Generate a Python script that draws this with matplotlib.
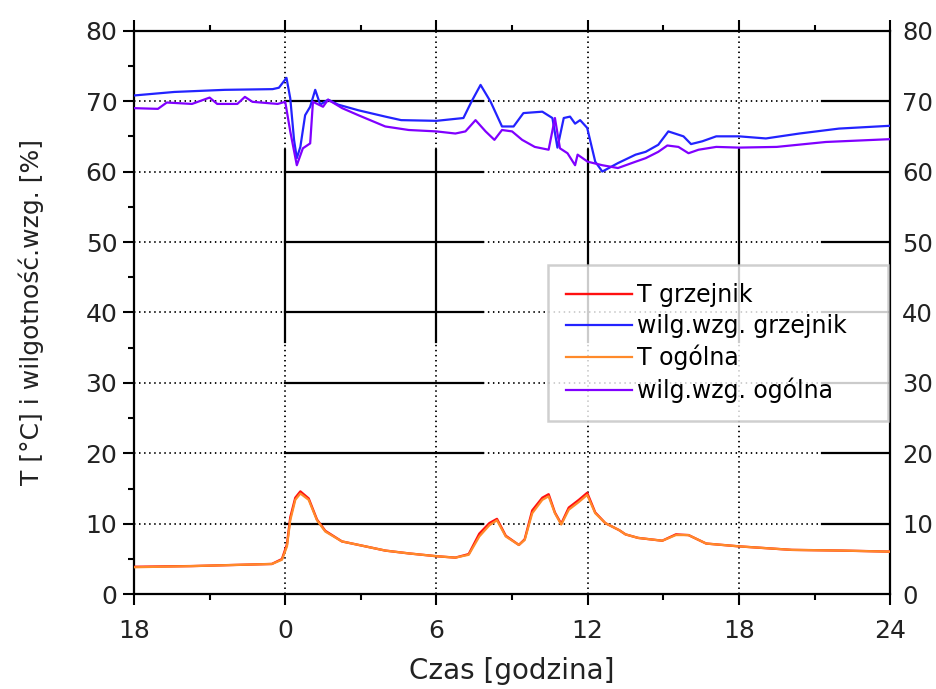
import numpy as np
import matplotlib
matplotlib.use("Agg")
import matplotlib.pyplot as plt

# ==== dane (godziny od 18:00 dnia poprzedniego)
hum_rad_h = [0, 1.6, 3.6, 5.5, 5.75, 6.05, 6.2, 6.35, 6.46, 6.6, 6.79, 6.99, 7.19, 7.39,
             7.7, 8.1, 8.9, 9.97, 10.6, 12.0, 13.07, 13.4, 13.75, 14.15, 14.6, 15.06,
             15.45, 16.2, 16.6, 16.8, 17.05, 17.3, 17.5, 17.7, 17.98, 18.3, 18.58, 19.2,
             19.9, 20.3, 20.8, 21.2, 21.8, 22.1, 22.55, 23.1, 24.0, 25.07, 26.4, 27.97, 30.0]
hum_rad = [70.8, 71.3, 71.6, 71.7, 71.9, 73.3, 70.4, 64.5, 61.9, 63.5, 68.0, 69.2, 71.6, 69.5,
           70.2, 69.5, 68.7, 67.8, 67.3, 67.2, 67.6, 70.0, 72.3, 69.9, 66.4, 66.4,
           68.3, 68.5, 67.6, 63.4, 67.6, 67.8, 66.8, 67.3, 66.2, 61.4, 60.0, 61.2,
           62.4, 62.8, 63.8, 65.7, 65.0, 63.9, 64.3, 65.0, 65.0, 64.7, 65.4, 66.1, 66.5]

hum_all_h = [0, 0.95, 1.3, 2.3, 3.0, 3.3, 4.1, 4.4, 4.7, 5.7, 6.0, 6.2, 6.46, 6.7, 6.99,
             7.1, 7.5, 7.7, 8.26, 8.9, 9.97, 10.9, 12.0, 12.75, 13.15, 13.55, 13.95, 14.3,
             14.6, 15.0, 15.4, 15.9, 16.45, 16.7, 16.9, 17.2, 17.5, 17.6, 18.0, 18.58,
             19.2, 19.9, 20.3, 20.8, 21.16, 21.6, 22.0, 22.4, 23.1, 24.0, 25.5, 27.45, 30.0]
hum_all = [69.0, 68.9, 69.8, 69.6, 70.5, 69.6, 69.6, 70.6, 69.9, 69.6, 69.9, 65.7, 60.9, 63.3, 64.0,
           69.9, 69.2, 70.2, 69.0, 68.0, 66.4, 65.9, 65.7, 65.4, 65.7, 67.3, 65.7, 64.5,
           65.9, 65.7, 64.5, 63.5, 63.1, 67.6, 63.3, 62.6, 60.9, 62.4, 61.4, 60.9,
           60.5, 61.4, 61.9, 62.8, 63.7, 63.5, 62.6, 63.1, 63.5, 63.4, 63.5, 64.2, 64.6]

temp_h = [0, 2.3, 5.47, 5.87, 6.07, 6.2, 6.4, 6.6, 6.93, 7.26, 7.59, 8.25, 9.18, 9.97,
          10.9, 12.0, 12.75, 13.28, 13.7, 14.1, 14.4, 14.75, 15.27, 15.5, 15.8, 16.2,
          16.45, 16.7, 16.95, 17.25, 17.65, 17.98, 18.3, 18.7, 19.25, 19.5, 20.0, 20.96,
          21.5, 22.0, 22.7, 24.0, 26.1, 28.1, 30.0]
temp_all = [3.83, 4.0, 4.3, 4.9, 6.8, 10.5, 13.4, 14.3, 13.4, 10.5, 8.9, 7.5, 6.8, 6.2,
            5.8, 5.4, 5.2, 5.6, 8.2, 9.8, 10.5, 8.2, 7.0, 7.7, 11.5, 13.4,
            13.9, 11.5, 9.9, 12.0, 13.1, 14.1, 11.5, 10.1, 9.1, 8.5, 8.0, 7.6,
            8.4, 8.4, 7.2, 6.8, 6.3, 6.2, 6.05]
temp_rad = [3.9, 4.0, 4.3, 5.0, 7.1, 10.9, 13.7, 14.6, 13.6, 10.6, 9.0, 7.5, 6.8, 6.2,
            5.8, 5.4, 5.2, 5.7, 8.6, 10.1, 10.7, 8.3, 7.0, 7.8, 11.9, 13.7,
            14.2, 11.6, 10.0, 12.3, 13.4, 14.4, 11.6, 10.1, 9.1, 8.5, 8.0, 7.6,
            8.5, 8.4, 7.2, 6.8, 6.3, 6.2, 6.05]

x_ticks = [0, 6, 12, 18, 24, 30]
x_labels = ["18", "0", "6", "12", "18", "24"]
y_ticks = [0, 10, 20, 30, 40, 50, 60, 70, 80]

# ==== wykres
fig = plt.figure(figsize=(9.37, 6.89), dpi=100)
ax = fig.add_axes([0.143, 0.1375, 0.807, 0.818])

ax.set_xlim(0, 30)
ax.set_ylim(0, 80)

# siatka kropkowana + ciągłe fragmenty jak w oryginale
for yv in y_ticks[1:-1]:
    ax.axhline(yv, color="black", lw=1.3, ls=(0, (0.8, 2.0)), zorder=0.5)
    ax.axhline(yv, xmin=0.2, xmax=0.462, color="black", lw=1.6, zorder=0.6)
    ax.axhline(yv, xmin=0.91, xmax=1.0, color="black", lw=1.6, zorder=0.6)
for xv in x_ticks[1:-1]:
    ax.axvline(xv, color="black", lw=1.3, ls=(0, (0.8, 2.0)), zorder=0.5)
    ax.axvline(xv, ymin=0.448, ymax=0.788, color="black", lw=1.6, zorder=0.6)

ax.plot(temp_h, temp_rad, color="#ff1010", lw=1.7, label="T grzejnik", zorder=3)
ax.plot(hum_rad_h, hum_rad, color="#2323ff", lw=1.6, label="wilg.wzg. grzejnik", zorder=3)
ax.plot(temp_h, temp_all, color="#ff8a2a", lw=1.6, label="T ogólna", zorder=3.1)
ax.plot(hum_all_h, hum_all, color="#8000ff", lw=1.6, label="wilg.wzg. ogólna", zorder=3)

ax.set_xticks(x_ticks)
ax.set_xticklabels(x_labels)
ax.set_xticks(np.arange(3, 30, 6), minor=True)
ax.set_yticks(y_ticks)
ax.set_yticks(np.arange(5, 80, 10), minor=True)

ax.tick_params(axis="x", which="both", direction="out", top=True, labelsize=18,
               width=1.5, pad=10, labelcolor="#222222")
ax.tick_params(axis="x", which="major", length=8)
ax.tick_params(axis="x", which="minor", length=4.5)
ax.tick_params(axis="y", which="both", direction="out", left=True, right=False,
               labelsize=18, width=1.5, pad=4, labelcolor="#222222")
ax.tick_params(axis="y", which="major", length=8)
ax.tick_params(axis="y", which="minor", length=4.5)

# prawa oś – te same wartości
ax_r = ax.twinx()
ax_r.set_ylim(ax.get_ylim())
ax_r.set_yticks(y_ticks)
ax_r.tick_params(axis="y", length=0, pad=8.5, labelsize=17.5, labelcolor="#222222")
for sp in ax_r.spines.values():
    sp.set_visible(False)

for sp in ax.spines.values():
    sp.set_linewidth(1.6)
    sp.set_color("black")

ax.set_xlabel("Czas [godzina]", fontsize=20, labelpad=10, color="#222222")
ax.set_ylabel("T [°C] i wilgotność.wzg. [%]", fontsize=18, labelpad=30, color="#222222")

leg = ax.legend(loc="upper left", bbox_to_anchor=(0.548, 0.584, 0.449, 0.0),
                mode="expand", fontsize=17, frameon=True, fancybox=False,
                handlelength=2.8, handletextpad=0.2, labelspacing=0.3,
                borderpad=0.75, borderaxespad=0)
leg.get_frame().set_edgecolor("#c4c4c4")
leg.get_frame().set_linewidth(1.8)
leg.set_zorder(5)

fig.savefig("out.png", dpi=100)
